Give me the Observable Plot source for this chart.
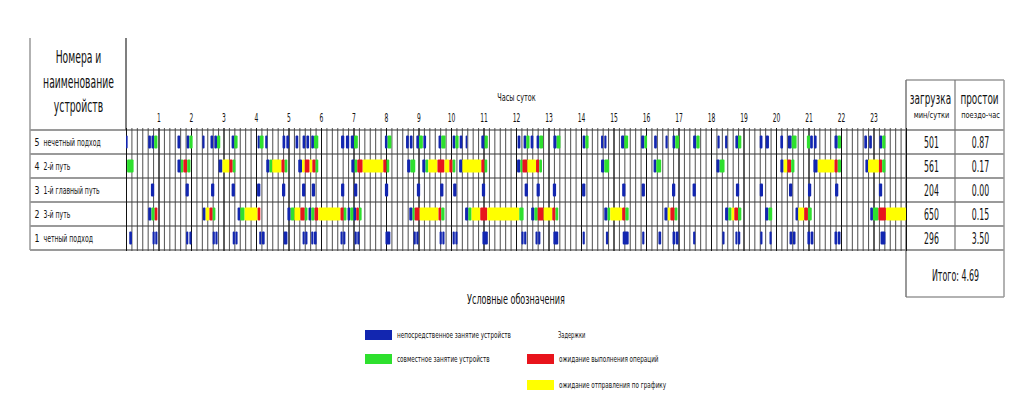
<!DOCTYPE html>
<html><head><meta charset="utf-8">
<script src="https://cdn.jsdelivr.net/npm/d3@7"></script>
<script src="https://cdn.jsdelivr.net/npm/@observablehq/plot@0.6"></script>
<style>
body{margin:0;background:#fff;}
#chart svg{display:block;}
</style></head><body><div id="chart"></div>
<script>
// ---------- data ----------
const rowIds = ["5","4","3","2","1"];
const rowNames = ["нечетный подход","2-й путь","1-й главный путь","3-й путь","четный подход"];
const loads = [501, 561, 204, 650, 296];
const idles = ["0.87", "0.17", "0.00", "0.15", "3.50"];
const idleTotal = "4.69";
const hours = d3.range(1, 24);
const kinds = ["B", "G", "R", "Y"];
const kindColors = ["#1226b0", "#2ee02e", "#e8141c", "#ffff00"];
const kindLabels = ["непосредственное занятие устройств", "совместное занятие устройств",
                    "ожидание выполнения операций", "ожидание отправления по графику"];
const delaysTitle = "Задержки";
const legendTitle = "Условные обозначения";
const xTitle = "Часы суток";
const headLeft = ["Номера и", "наименование", "устройств"];
const headLoad = ["загрузка", "мин/сутки"];
const headIdle = ["простои", "поездо-час"];

// segments: [start minute, end minute, kind]
const row5 = [
 [0,3,"B"],[41,46,"B"],[47,52,"B"],[52,58,"G"],[95,100,"B"],[112,117,"B"],[117,123,"G"],[141,145,"B"],
 [156,161,"B"],[163,168,"B"],[168,174,"G"],[195,200,"B"],[200,206,"G"],[243,247,"B"],[247,254,"G"],[257,261,"B"],
 [289,294,"B"],[296,301,"B"],[313,318,"B"],[326,331,"B"],[333,338,"B"],[342,347,"B"],[347,355,"G"],
 [397,403,"B"],[406,412,"B"],[415,421,"B"],[421,428,"G"],[478,483,"B"],[483,490,"G"],
 [517,522,"B"],[524,529,"B"],[536,541,"B"],[541,548,"G"],[549,554,"B"],[577,582,"B"],[582,590,"G"],
 [603,608,"B"],[608,614,"G"],[616,621,"B"],[627,630,"B"],[656,662,"B"],[662,668,"G"],[723,728,"B"],
 [734,739,"B"],[739,745,"G"],[747,752,"B"],[758,763,"B"],[763,770,"G"],[789,795,"B"],[795,802,"G"],
 [843,848,"B"],[848,854,"G"],[877,881,"B"],[883,887,"B"],[914,920,"B"],[920,927,"G"],[951,957,"B"],[957,962,"G"],
 [975,980,"B"],[996,1000,"B"],[1009,1014,"B"],[1014,1021,"G"],[1047,1053,"B"],[1053,1059,"G"],
 [1092,1096,"B"],[1106,1110,"B"],[1125,1130,"B"],[1130,1136,"G"],[1170,1175,"B"],[1181,1187,"B"],
 [1208,1213,"B"],[1222,1229,"B"],[1229,1238,"G"],[1257,1263,"G"],[1263,1268,"B"],[1270,1275,"B"],
 [1308,1314,"B"],[1314,1320,"G"],[1363,1368,"B"],[1372,1377,"B"],[1391,1396,"B"],[1396,1402,"G"]
];
const row4 = [
 [2,14,"G"],[95,101,"B"],[101,106,"G"],[106,113,"R"],[113,119,"G"],
 [171,178,"B"],[178,191,"Y"],[191,197,"R"],[197,202,"G"],
 [259,265,"B"],[265,270,"G"],[270,287,"Y"],[287,293,"R"],[293,298,"G"],
 [318,325,"B"],[325,330,"Y"],[330,339,"R"],[339,344,"Y"],[344,350,"R"],[350,355,"G"],
 [416,422,"B"],[422,427,"G"],[427,437,"R"],[437,475,"Y"],[475,481,"R"],[481,486,"G"],
 [519,525,"B"],[525,534,"G"],
 [547,553,"B"],[553,558,"G"],[558,575,"Y"],[575,588,"R"],[588,597,"Y"],[597,603,"R"],[603,608,"G"],
 [615,621,"B"],[621,656,"Y"],[656,662,"R"],[662,667,"G"],
 [722,728,"B"],[728,732,"G"],[732,741,"R"],[741,757,"Y"],[757,763,"R"],[763,768,"G"],
 [877,883,"B"],[883,892,"G"],[974,979,"B"],[979,988,"G"],[1090,1096,"B"],[1096,1105,"G"],
 [1208,1214,"B"],[1214,1221,"Y"],[1221,1228,"R"],[1228,1234,"G"],
 [1269,1277,"B"],[1277,1308,"Y"],[1308,1314,"R"],[1314,1320,"G"],
 [1365,1370,"B"],[1370,1390,"Y"],[1390,1396,"R"],[1396,1402,"G"]
];
const row3 = [
 [46,52,"B"],[110,116,"B"],[157,163,"B"],[195,201,"B"],[242,248,"B"],[288,294,"B"],[325,331,"B"],
 [343,349,"B"],[397,403,"B"],[421,427,"B"],[478,484,"B"],[537,543,"B"],[580,586,"B"],[604,610,"B"],
 [657,663,"B"],[736,742,"B"],[758,764,"B"],[788,794,"B"],[842,848,"B"],[916,922,"B"],[952,958,"B"],
 [1008,1014,"B"],[1046,1052,"B"],[1126,1132,"B"],[1170,1176,"B"],[1224,1230,"B"],[1259,1265,"B"],
 [1309,1315,"B"],[1390,1396,"B"]
];
const row2 = [
 [41,47,"B"],[47,53,"G"],[53,58,"R"],
 [142,147,"B"],[147,154,"Y"],[154,160,"R"],[160,165,"G"],
 [206,211,"B"],[211,219,"G"],[219,243,"Y"],[243,248,"R"],
 [298,304,"B"],[304,311,"G"],[311,322,"Y"],[322,330,"R"],[330,335,"G"],
 [337,342,"B"],[342,348,"G"],[348,355,"R"],[355,396,"Y"],[396,402,"R"],[402,407,"G"],
 [409,414,"B"],[414,420,"G"],[420,425,"B"],[425,430,"R"],[430,435,"G"],
 [523,529,"B"],[529,533,"G"],[533,542,"R"],[542,577,"Y"],[577,582,"R"],[582,588,"G"],
 [626,632,"B"],[632,638,"G"],[638,654,"Y"],[654,667,"R"],[667,726,"Y"],[726,734,"G"],
 [748,754,"B"],[754,760,"G"],[760,771,"R"],[771,787,"Y"],[787,793,"R"],[793,798,"G"],
 [883,889,"B"],[889,894,"G"],[894,916,"Y"],[916,922,"R"],[922,928,"G"],
 [994,1000,"B"],[1000,1005,"Y"],[1005,1013,"R"],[1013,1018,"G"],
 [1106,1112,"B"],[1112,1118,"G"],[1118,1123,"Y"],[1123,1130,"R"],[1130,1136,"G"],
 [1180,1186,"B"],[1186,1193,"G"],
 [1236,1241,"B"],[1241,1252,"Y"],[1252,1259,"R"],[1259,1266,"G"],
 [1374,1379,"B"],[1379,1389,"G"],[1389,1403,"R"],[1403,1440,"Y"]
];
const row1 = [
 [6,11,"B"],[49,53,"B"],[54,58,"B"],[111,115,"B"],[117,121,"B"],[160,164,"B"],[165,169,"B"],
 [197,201,"B"],[202,206,"B"],[246,250,"B"],[251,256,"B"],[291,298,"B"],[326,330,"B"],[331,335,"B"],
 [342,346,"B"],[347,352,"B"],[396,400,"B"],[401,405,"B"],[422,426,"B"],[427,431,"B"],[479,488,"B"],
 [531,535,"B"],[536,540,"B"],[579,583,"B"],[584,588,"B"],[603,607,"B"],[608,612,"B"],[658,668,"B"],
 [730,734,"B"],[735,739,"B"],[756,760,"B"],[761,765,"B"],[789,798,"B"],[843,847,"B"],[886,890,"B"],
 [917,928,"B"],[953,957,"B"],[983,988,"B"],[1009,1014,"B"],[1015,1020,"B"],[1047,1051,"B"],
 [1101,1105,"B"],[1125,1129,"B"],[1130,1134,"B"],[1171,1175,"B"],[1188,1192,"B"],[1225,1230,"B"],
 [1231,1236,"B"],[1258,1263,"B"],[1264,1269,"B"],[1308,1313,"B"],[1314,1319,"B"],[1393,1402,"B"]
];

// ---------- build ----------
const rowSegs = [row5, row4, row3, row2, row1];
const segs = rowSegs.flatMap((arr, i) => arr.map(([s, e, k]) => ({row: rowIds[i], s, e, k})));

const FONT = '"Liberation Sans Narrow", "DejaVu Sans Condensed", "DejaVu Sans", sans-serif';
const W = 1031, H = 405;
const mid = {textAnchor: "middle", lineAnchor: "middle"};

const plot = Plot.plot({
  width: W, height: H,
  marginLeft: 126, marginRight: 125, marginTop: 128, marginBottom: 154,
  x: {domain: [0, 1440], axis: null},
  y: {domain: rowIds, axis: null, padding: 0},
  color: {domain: kinds, range: kindColors},
  style: {fontFamily: FONT, background: "white", color: "#111"},
  marks: [
    Plot.ruleX(d3.range(0, 1441, 10), {stroke: "#3c3c3c", strokeWidth: 0.9}),
    Plot.ruleX(d3.range(0, 1441, 60), {stroke: "#111", strokeWidth: 1}),
    Plot.barX(segs, {x1: "s", x2: "e", y: "row", fill: "k", insetTop: 5.5, insetBottom: 5.5, rx: 1}),
    Plot.text(hours, {x: d => d * 60, text: d => String(d), frameAnchor: "top", dy: -10, fontSize: 12, ariaDescription: "hours", ...mid}),
    Plot.text([xTitle], {x: 720, frameAnchor: "top", dy: -31, fontSize: 11, ariaDescription: "xtitle", ...mid}),
    Plot.text([headLeft[0]], {frameAnchor: "top-left", dx: -48, dy: -71, fontSize: 18, ariaDescription: "hdrleft", ...mid}),
    Plot.text([headLeft[1]], {frameAnchor: "top-left", dx: -48, dy: -46, fontSize: 18, ariaDescription: "hdrleft", ...mid}),
    Plot.text([headLeft[2]], {frameAnchor: "top-left", dx: -48, dy: -22, fontSize: 18, ariaDescription: "hdrleft", ...mid}),
    Plot.text([headLoad[1]], {frameAnchor: "top-right", dx: 25, dy: -13, fontSize: 9, ariaDescription: "hdrsmall", ...mid}),
    Plot.text([headIdle[1]], {frameAnchor: "top-right", dx: 74, dy: -13, fontSize: 9, ariaDescription: "hdrsmall", ...mid}),
    Plot.text(rowIds, {y: d => d, text: d => d, frameAnchor: "left", dx: -92, fontSize: 11, ariaDescription: "rownum", textAnchor: "start", lineAnchor: "middle"}),
    Plot.text(rowIds, {y: d => d, text: (d, i) => rowNames[i], frameAnchor: "left", dx: -83, fontSize: 10.5, ariaDescription: "rowname", textAnchor: "start", lineAnchor: "middle"}),
    Plot.text(rowIds, {y: d => d, text: (d, i) => String(loads[i]), frameAnchor: "right", dx: 25, fontSize: 16, ariaDescription: "values", ...mid}),
    Plot.text(rowIds, {y: d => d, text: (d, i) => idles[i], frameAnchor: "right", dx: 74, fontSize: 16, ariaDescription: "values", ...mid}),
    Plot.text([`Итого: ${idleTotal}`], {frameAnchor: "bottom-right", dx: 49, dy: 24, fontSize: 16, ariaDescription: "total", ...mid})
  ]
});
document.getElementById("chart").appendChild(plot);

// ---------- table frame, column headers & legend ----------
const xs = plot.scale("x"), ys = plot.scale("y");
const gx0 = xs.apply(0), gx1 = xs.apply(1440);
const edges = rowIds.map(r => ys.apply(r)).concat([ys.apply(rowIds[4]) + ys.bandwidth]);
const svg = d3.select(plot);
const frame = svg.insert("g", ":first-child").attr("fill", "none");
const tblL = gx0 - 96, tblTopL = 38, tblTopR = 80, colW = 49, totalBottom = edges[5] + 47;
edges.forEach(y => frame.append("line").attr("x1", tblL).attr("x2", gx1 + 2 * colW).attr("y1", y).attr("y2", y)
  .attr("stroke", "#9a9a9a").attr("stroke-width", 2));
frame.append("line").attr("x1", tblL).attr("x2", tblL).attr("y1", tblTopL).attr("y2", edges[5]).attr("stroke", "#999").attr("stroke-width", 1.5);
frame.append("line").attr("x1", gx0).attr("x2", gx0).attr("y1", tblTopL).attr("y2", edges[0]).attr("stroke", "#555").attr("stroke-width", 1.5);
frame.append("line").attr("x1", gx1).attr("x2", gx1 + 2 * colW).attr("y1", tblTopR).attr("y2", tblTopR).attr("stroke", "#999").attr("stroke-width", 1.5);
frame.append("line").attr("x1", gx1).attr("x2", gx1 + 2 * colW).attr("y1", totalBottom).attr("y2", totalBottom).attr("stroke", "#999").attr("stroke-width", 1.5);
frame.append("line").attr("x1", gx1).attr("x2", gx1).attr("y1", tblTopR).attr("y2", totalBottom).attr("stroke", "#777").attr("stroke-width", 1.5);
frame.append("line").attr("x1", gx1 + colW).attr("x2", gx1 + colW).attr("y1", tblTopR).attr("y2", edges[5]).attr("stroke", "#777").attr("stroke-width", 1.2);
frame.append("line").attr("x1", gx1 + 2 * colW).attr("x2", gx1 + 2 * colW).attr("y1", tblTopR).attr("y2", totalBottom).attr("stroke", "#999").attr("stroke-width", 1.5);

// big column headers (tall, narrow lettering)
const hdr = svg.append("g").attr("font-family", FONT).attr("fill", "#111");
[[headLoad[0], gx1 + colW / 2], [headIdle[0], gx1 + 1.5 * colW]].forEach(([t, cx]) => {
  hdr.append("text").attr("transform", `translate(${cx},${edges[0] - 31}) scale(1,1.22)`)
    .attr("text-anchor", "middle").attr("dy", "0.32em").attr("font-size", 13)
    .attr("data-sq", 0.76).text(t);
});

const lg = svg.append("g").attr("font-family", FONT).attr("fill", "#111");
const midX = xs.apply(720);
lg.append("text").attr("x", midX).attr("y", 300).attr("dy", "0.32em").attr("text-anchor", "middle")
  .attr("font-size", 14).attr("data-sq", 0.64).text(legendTitle);
const colX = [365, 527], rowY = [335, 359, 385];
const legendPos = [[0, 0], [0, 1], [1, 1], [1, 2]];
kinds.forEach((k, i) => {
  const [c, r] = legendPos[i];
  lg.append("rect").attr("x", colX[c]).attr("y", rowY[r] - 5).attr("width", 27).attr("height", 10).attr("fill", kindColors[i]);
  lg.append("text").attr("x", colX[c] + 32).attr("y", rowY[r]).attr("dy", "0.32em").attr("font-size", 8.5)
    .attr("text-anchor", "start").attr("data-sq", 0.74).text(kindLabels[i]);
});
lg.append("text").attr("x", colX[1] + 31).attr("y", rowY[0]).attr("dy", "0.32em").attr("font-size", 8.5)
  .attr("text-anchor", "start").attr("data-sq", 0.67).text(delaysTitle);

// ---------- condensed lettering ----------
const sq = {hours: 0.55, xtitle: 0.66, hdrleft: 0.57, hdrsmall: 0.82,
            rownum: 0.8, rowname: 0.65, values: 0.54, total: 0.55};
function squeeze(t, k) {
  const L = t.getComputedTextLength();
  if (L > 0) { t.setAttribute("textLength", (L * k).toFixed(1)); t.setAttribute("lengthAdjust", "spacingAndGlyphs"); }
}
plot.querySelectorAll("g[aria-description]").forEach(g => {
  const k = sq[g.getAttribute("aria-description")];
  if (k) g.querySelectorAll("text").forEach(t => squeeze(t, k));
});
plot.querySelectorAll("text[data-sq]").forEach(t => squeeze(t, +t.getAttribute("data-sq")));
</script>
</body></html>
